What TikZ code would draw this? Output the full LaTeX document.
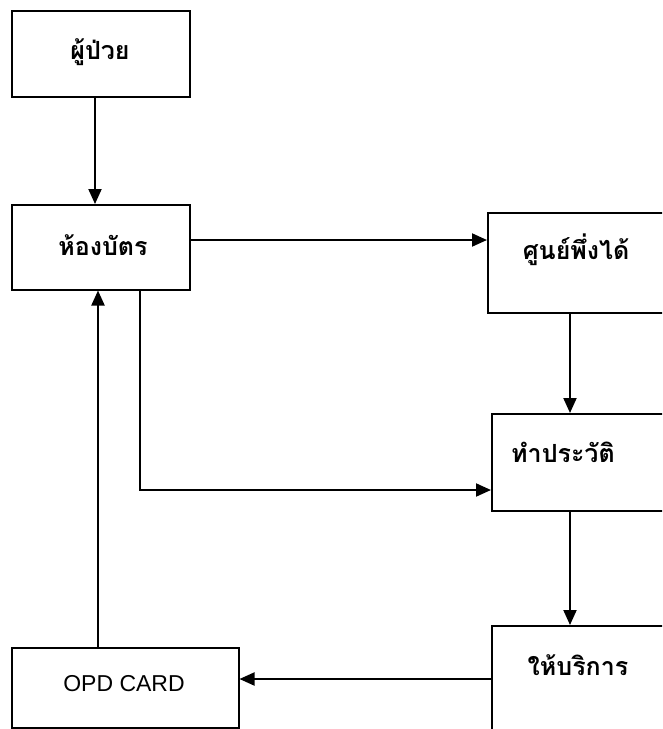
\documentclass[tikz,border=0pt]{standalone}
\usepackage{fontspec}
\setmainfont{Liberation Sans}
\newfontfamily\thaifont[Script=Thai]{Loma}
\usetikzlibrary{arrows.meta}
\begin{document}
\begin{tikzpicture}[x=1pt,y=-1pt,
  box/.style={draw=black, line width=1.5pt, rectangle, inner sep=0pt, anchor=north west},
  thai/.style={font=\thaifont\bfseries\fontsize{25}{28}\selectfont, inner sep=0pt},
  latin/.style={font=\fontsize{23}{26}\selectfont, inner sep=0pt},
  arr/.style={line width=2pt, -{Triangle[length=15pt,width=13pt]}},
  ln/.style={line width=2pt}]
\useasboundingbox (0,0) rectangle (662,729);
\clip (0,0) rectangle (662,729);
% boxes
\node[box, minimum width=178pt, minimum height=86pt] (b1) at (11,10) {};
\node[box, minimum width=178pt, minimum height=85pt] (b2) at (11,204) {};
\node[box, minimum width=220pt, minimum height=100pt] (b3) at (487,212) {};
\node[box, minimum width=220pt, minimum height=97pt] (b4) at (491,413) {};
\node[box, minimum width=220pt, minimum height=140pt] (b5) at (491,625) {};
\node[box, minimum width=227pt, minimum height=80pt] (b6) at (11,647) {};
% texts
\node[thai] (t1) at (100,52) {ผู้ป่วย};
\node[thai] (t2) at (103,245) {ห้องบัตร};
\node[thai] (t3) at (576,250) {ศูนย์พึ่งได้};
\node[thai] (t4) at (563,452) {ทำประวัติ};
\node[thai] (t5) at (578,665) {ให้บริการ};
\node[latin] (t6) at (124,684) {OPD CARD};
% helper coordinates
\coordinate (c1) at (95,0);
\coordinate (c2) at (0,240);
\coordinate (c3) at (570,0);
\coordinate (c4) at (140,0);
\coordinate (c5) at (0,490);
\coordinate (c6) at (0,679);
\coordinate (c7) at (98,0);
% connectors
\draw[arr] (b1.south -| c1) -- (b2.north -| c1);
\draw[arr] (b2.east |- c2) -- (b3.west |- c2);
\draw[arr] (b3.south -| c3) -- (b4.north -| c3);
\draw[arr] (b2.south -| c4) -- (c4 |- c5) -- (b4.west |- c5);
\draw[arr] (b4.south -| c3) -- (b5.north -| c3);
\draw[arr] (b5.west |- c6) -- (b6.east |- c6);
\draw[arr] (b6.north -| c7) -- (b2.south -| c7);
\end{tikzpicture}
\end{document}
